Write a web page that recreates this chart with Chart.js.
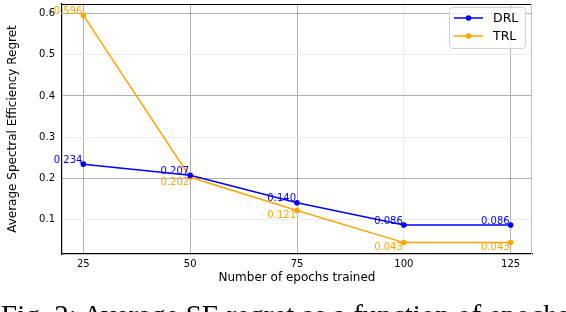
<!DOCTYPE html>
<html>
<head>
<meta charset="utf-8">
<script src="https://cdn.jsdelivr.net/npm/chart.js@4"></script>
<style>
  html, body { margin: 0; padding: 0; background: #fff; }
  #wrap { position: relative; width: 566px; height: 312px; overflow: hidden; }
  #caption {
    position: absolute; left: 1px; top: 299px; white-space: nowrap;
    font-family: "Liberation Serif", "DejaVu Serif", serif; font-size: 29px; color: #000;
  }
</style>
</head>
<body>
<div id="wrap">
  <canvas id="line_chart" width="566" height="312"></canvas>
  <div id="caption">Fig. 2: Average SE regret as a function of epochs</div>
</div>
<script>
// values
var epochs = [25, 50, 75, 100, 125];
var drlRegret = [0.234, 0.207, 0.140, 0.086, 0.086];
var trlRegret = [0.596, 0.202, 0.121, 0.043, 0.043];
var xTicks = [25, 50, 75, 100, 125];
var yTicks = [0.1, 0.2, 0.3, 0.4, 0.5, 0.6];
var xMajorGrid = [25, 50, 75, 125];
var yMajorGrid = [0.2, 0.4, 0.6];
// label side per point: 1 = above, -1 = below
var drlLabelSide = [1, 1, 1, 1, 1];
var trlLabelSide = [1, -1, -1, -1, -1];

var FONT = "'DejaVu Sans', sans-serif";

function toPoints(ys) {
	return epochs.map(function (x, i) { return { x: x, y: ys[i] }; });
}

// Value labels next to each marker.
var pointLabels = {
	id: 'pointLabels',
	afterDatasetsDraw: function (chart) {
		var ctx = chart.ctx;
		ctx.save();
		ctx.font = '10px ' + FONT;
		ctx.textAlign = 'right';
		chart.data.datasets.forEach(function (ds, di) {
			var meta = chart.getDatasetMeta(di);
			meta.data.forEach(function (pt, i) {
				var side = ds.labelSide[i];
				ctx.fillStyle = ds.borderColor;
				ctx.textBaseline = side > 0 ? 'bottom' : 'top';
				ctx.fillText(ds.data[i].y.toFixed(3), pt.x - 1, pt.y + (side > 0 ? 1 : 0));
			});
		});
		ctx.restore();
	}
};

// Top/right frame and the boxed legend.
var frameAndLegend = {
	id: 'frameAndLegend',
	afterDraw: function (chart) {
		var ctx = chart.ctx;
		var a = chart.chartArea;
		ctx.save();
		ctx.lineWidth = 1;
		ctx.strokeStyle = '#000';
		ctx.beginPath();
		ctx.moveTo(a.left, a.top + 0.5);
		ctx.lineTo(a.right, a.top + 0.5);
		ctx.stroke();
		ctx.strokeStyle = '#bdbdbd';
		ctx.beginPath();
		ctx.moveTo(a.right - 0.5, a.top);
		ctx.lineTo(a.right - 0.5, a.bottom);
		ctx.stroke();

		// legend box
		var bx = 449.5, by = 7.5, bw = 76, bh = 41, r = 3;
		ctx.fillStyle = 'rgba(255,255,255,0.8)';
		ctx.strokeStyle = '#d0d0d0';
		ctx.beginPath();
		ctx.moveTo(bx + r, by);
		ctx.arcTo(bx + bw, by, bx + bw, by + bh, r);
		ctx.arcTo(bx + bw, by + bh, bx, by + bh, r);
		ctx.arcTo(bx, by + bh, bx, by, r);
		ctx.arcTo(bx, by, bx + bw, by, r);
		ctx.closePath();
		ctx.fill();
		ctx.stroke();

		ctx.font = '12.5px ' + FONT;
		ctx.textAlign = 'left';
		ctx.textBaseline = 'middle';
		chart.data.datasets.forEach(function (ds, i) {
			var y = 18 + i * 18;
			ctx.strokeStyle = ds.borderColor;
			ctx.lineWidth = 1.5;
			ctx.beginPath();
			ctx.moveTo(454, y);
			ctx.lineTo(483, y);
			ctx.stroke();
			ctx.fillStyle = ds.borderColor;
			ctx.beginPath();
			ctx.arc(468.5, y, 2.8, 0, Math.PI * 2);
			ctx.fill();
			ctx.fillStyle = '#000';
			ctx.fillText(ds.label, 493, y + 1);
		});
		ctx.restore();
	}
};

var regretChart = new Chart(document.getElementById('line_chart'), {
	type: 'line',
	data: {
		datasets: [
			{
				label: 'DRL',
				data: toPoints(drlRegret),
				borderColor: '#0000ff',
				backgroundColor: '#0000ff',
				borderWidth: 1.5,
				pointStyle: 'circle',
				pointRadius: 2.8,
				pointBorderWidth: 0,
				labelSide: drlLabelSide,
			},
			{
				label: 'TRL',
				data: toPoints(trlRegret),
				borderColor: '#ffa500',
				backgroundColor: '#ffa500',
				borderWidth: 1.5,
				pointStyle: 'circle',
				pointRadius: 2.8,
				pointBorderWidth: 0,
				labelSide: trlLabelSide,
			}
		]
	},
	options: {
		responsive: false,
		animation: false,
		layout: { padding: { left: 0, right: 34, top: 2, bottom: 27 } },
		plugins: {
			legend: { display: false },
			tooltip: { enabled: false }
		},
		scales: {
			x: {
				type: 'linear',
				min: 20,
				max: 130,
				afterBuildTicks: function (axis) {
					axis.ticks = xTicks.map(function (v) { return { value: v }; });
				},
				afterFit: function (axis) {
					axis.height = 31;
					axis.paddingLeft = 0;
					axis.paddingRight = 0;
				},
				ticks: {
					color: '#000',
					font: { family: FONT, size: 10 },
					padding: 4,
					maxRotation: 0
				},
				grid: {
					drawTicks: false,
					lineWidth: 1,
					color: function (c) {
						return xMajorGrid.indexOf(c.tick.value) >= 0 ? '#b0b0b0' : '#ebebeb';
					}
				},
				border: { color: '#000', width: 1.2 },
				title: {
					display: true,
					text: 'Number of epochs trained',
					color: '#000',
					font: { family: FONT, size: 12 },
					padding: { top: 0, bottom: 0 }
				}
			},
			y: {
				type: 'linear',
				min: 0.0153,
				max: 0.6237,
				afterBuildTicks: function (axis) {
					axis.ticks = yTicks.map(function (v) { return { value: v }; });
				},
				afterFit: function (axis) {
					axis.width = 62;
					axis.paddingTop = 0;
					axis.paddingBottom = 0;
				},
				ticks: {
					color: '#000',
					font: { family: FONT, size: 10 },
					padding: 7,
					callback: function (v) { return v.toFixed(1); }
				},
				grid: {
					drawTicks: false,
					lineWidth: 1,
					color: function (c) {
						var major = yMajorGrid.some(function (m) { return Math.abs(m - c.tick.value) < 1e-9; });
						return major ? '#b0b0b0' : '#ebebeb';
					}
				},
				border: { color: '#000', width: 1.2 },
				title: {
					display: true,
					text: 'Average Spectral Efficiency Regret',
					color: '#000',
					font: { family: FONT, size: 12 },
					padding: { top: 6, bottom: 0 }
				}
			}
		}
	},
	plugins: [pointLabels, frameAndLegend]
});
</script>
</body>
</html>
